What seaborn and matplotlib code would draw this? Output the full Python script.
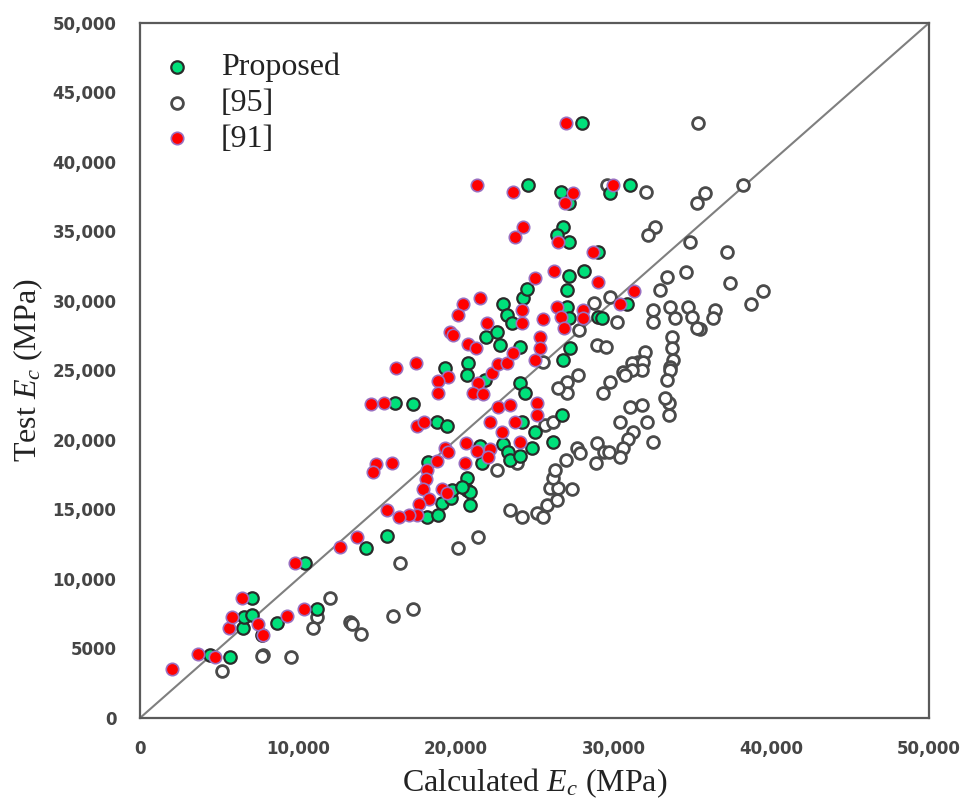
import numpy as np
import pandas as pd
import matplotlib
matplotlib.use("Agg")
import matplotlib.pyplot as plt
import seaborn as sns

# Proposed model: calculated vs. test elastic modulus (MPa)
proposed_x = [4440, 5700, 6550, 6610, 7120, 7120, 7700, 8660, 10440, 11240, 14350, 15630,
              16160, 17280, 18840, 19470, 18270, 18170, 18910, 19110, 19690, 19750, 20700,
              20700, 20910, 20910, 20380, 21650, 21540, 23020, 23340, 23450, 24080, 24190,
              24820, 25030, 26150, 26720, 23020, 23240, 23560, 24290, 24500, 21930, 22600,
              22810, 20810, 20740, 19330, 21860, 24080, 24080, 24400, 27990, 24570, 26680,
              29780, 31050, 26780, 27200, 26400, 27200, 29040, 28140, 27200, 27040, 30840,
              29040, 29250, 27040, 27200, 27250, 26820]
proposed_y = [4530, 4360, 6450, 7240, 7410, 8660, 6000, 6810, 11130, 7840, 12250, 13090,
              22640, 22590, 21320, 21000, 18440, 14480, 14600, 15440, 15800, 16400, 17240,
              16400, 16280, 15320, 16640, 18320, 19600, 19710, 19160, 18560, 18850, 21320,
              19400, 20600, 19880, 21800, 29780, 28990, 28390, 30190, 30840, 27440, 27790,
              26830, 25560, 24670, 25180, 24320, 26710, 24080, 23350, 42780, 38340, 37860,
              37740, 38340, 35350, 37030, 34750, 34260, 33550, 32160, 31790, 30790, 29780,
              28870, 28750, 29540, 28750, 26600, 25760]

# Reference [95]
ref95_x = [5180, 7820, 7700, 9590, 11240, 10940, 12040, 13300, 13410, 13990, 16010, 17320,
           16480, 20170, 21440, 23450, 24190, 22600, 23870, 25130, 25560, 25770, 26400,
           25980, 26510, 27360, 26190, 26300, 27000, 27670, 27880, 28940, 29400, 28900,
           25660, 26150, 31050, 31790, 33550, 33550, 32110, 30420, 31260, 30950, 30630,
           30420, 29740, 32480, 35380, 29570, 32070, 35810, 35280, 38230, 32640, 32210,
           34850, 37180, 37390, 39460, 38700, 36440, 36290, 35490, 34600, 33380, 32950,
           29780, 28770, 32530, 32530, 33590, 33900, 34750, 34960, 35280, 30210, 28940,
           29530, 33690, 33690, 33800, 33590, 32000, 31580, 31160, 30630, 27840, 25560,
           27780, 27040, 29780, 29360, 27040, 26510, 31900, 31790, 31160, 30740, 33590,
           33380, 33270]
ref95_y = [3400, 4530, 4450, 4360, 7290, 6500, 8660, 6930, 6760, 6020, 7340, 7820,
           11130, 12250, 13000, 14960, 14480, 17840, 18320, 14730, 14480, 15320, 15680,
           16520, 16520, 16450, 17240, 17840, 18560, 19400, 19040, 19760, 19160, 18370,
           21080, 21320, 22350, 22520, 22640, 21800, 21320, 21320, 20600, 20050, 19400,
           18800, 19160, 19880, 42780, 38340, 37860, 37740, 37030, 38340, 35350, 34750,
           34260, 33550, 31320, 30720, 29760, 29350, 28750, 27960, 32110, 31750, 30790,
           30310, 29880, 29350, 28510, 29590, 28750, 29590, 28870, 28030, 28510, 26830,
           26710, 27440, 26600, 25760, 25270, 26330, 25630, 25520, 24910, 27910, 25630,
           24680, 24190, 24190, 23350, 23350, 23720, 25630, 25040, 25040, 24680, 25040,
           24320, 23000]

# Reference [91]
ref91_x = [2000, 3700, 4770, 5660, 5830, 6460, 7460, 7820, 9340, 9800, 10390, 12670, 13770,
           14620, 15460, 17580, 18000, 19330, 19540, 20660, 21340, 22180, 22070, 20600,
           22180, 22710, 23450, 23760, 22920, 24080, 18800, 18210, 18120, 17910, 18330,
           17700, 17580, 17070, 16440, 15630, 19110, 19430, 14960, 14790, 15950, 23760,
           24190, 24190, 20490, 21550, 20170, 21970, 19640, 19820, 20810, 21290, 16220,
           17490, 19540, 18900, 18900, 21440, 22290, 22710, 23240, 23610, 21120, 21760,
           27000, 21340, 23660, 27420, 26930, 29950, 24290, 26510, 28730, 26240, 29040,
           25030, 31300, 30420, 28090, 28050, 26400, 26660, 26870, 25520, 25350, 25350,
           25030, 25130, 25130]
ref91_y = [3500, 4580, 4360, 6450, 7240, 8660, 6760, 5970, 7340, 11130, 7820, 12280, 13040,
           22590, 22640, 21000, 21320, 19450, 19160, 19810, 19210, 19320, 18750, 18370,
           21320, 22350, 22520, 21320, 20600, 19880, 18510, 17840, 17170, 16450, 15740,
           15400, 14600, 14600, 14480, 14960, 16450, 16210, 18270, 17720, 18320, 34620,
           29350, 28440, 29780, 30190, 28990, 28440, 27790, 27550, 26910, 26600, 25180,
           25560, 24550, 24270, 23350, 24080, 24840, 25470, 25560, 26280, 23350, 23310,
           42780, 38340, 37860, 37740, 37030, 38340, 35350, 34260, 33550, 32160, 31390,
           31640, 30720, 29780, 29350, 28750, 29540, 28870, 28030, 28680, 27400, 26600,
           25760, 22640, 21800]

y_ticks = [0, 5000, 10000, 15000, 20000, 25000, 30000, 35000, 40000, 45000, 50000]
y_tick_labels = ["0", "5000", "10,000", "15,000", "20,000", "25,000", "30,000",
                 "35,000", "40,000", "45,000", "50,000"]
x_ticks = [0, 10000, 20000, 30000, 40000, 50000]
x_tick_labels = ["0", "10,000", "20,000", "30,000", "40,000", "50,000"]

sns.set_style("white")
plt.rcParams["font.family"] = ["DejaVu Sans"]
plt.rcParams["mathtext.fontset"] = "custom"
plt.rcParams["mathtext.rm"] = "Liberation Serif"
plt.rcParams["mathtext.it"] = "Liberation Serif:italic"

fig = plt.figure(figsize=(9.63, 8.0), dpi=100)
ax = fig.add_axes([0.1454, 0.1025, 0.8193, 0.8688])

df95 = pd.DataFrame({"calc": ref95_x, "test": ref95_y})
dfp = pd.DataFrame({"calc": proposed_x, "test": proposed_y})
df91 = pd.DataFrame({"calc": ref91_x, "test": ref91_y})

# 1:1 line
ax.plot([0, 50000], [0, 50000], color="#7f7f7f", lw=1.5, zorder=1)

sns.scatterplot(data=df95, x="calc", y="test", ax=ax, s=72, facecolor="white",
                edgecolor="#4a4a4a", linewidth=2.0, label="[95]", zorder=2)
sns.scatterplot(data=dfp, x="calc", y="test", ax=ax, s=80, color="#00e07a",
                edgecolor="#2a2a2a", linewidth=1.6, label="Proposed", zorder=3)
sns.scatterplot(data=df91, x="calc", y="test", ax=ax, s=80, color="#ff0000",
                edgecolor="#9a6fc0", linewidth=1.2, label="[91]", zorder=4)

ax.set_xlim(0, 50000)
ax.set_ylim(0, 50000)
ax.set_xticks(x_ticks)
ax.set_xticklabels(x_tick_labels)
ax.set_yticks(y_ticks)
ax.set_yticklabels(y_tick_labels)
ax.tick_params(axis="both", direction="out", length=6, width=1.2, color="#6a6a6a",
               labelsize=12, labelcolor="#454545")
ax.tick_params(axis="x", pad=10)
ax.tick_params(axis="y", pad=11)
for lab in ax.get_xticklabels() + ax.get_yticklabels():
    lab.set_fontweight("bold")
for sp in ax.spines.values():
    sp.set_visible(True)
    sp.set_color("#5a5a5a")
    sp.set_linewidth(1.6)

ax.set_xlabel("Calculated $E_c$ (MPa)", fontsize=23, family="Liberation Serif",
              color="#222222", labelpad=6)
ax.set_ylabel("Test $E_c$ (MPa)", fontsize=23, family="Liberation Serif",
              color="#222222", labelpad=5)

handles, labels = ax.get_legend_handles_labels()
order = [labels.index("Proposed"), labels.index("[95]"), labels.index("[91]")]
leg = ax.legend([handles[i] for i in order], [labels[i] for i in order],
                loc="upper left", bbox_to_anchor=(0.0065, 0.98), frameon=False,
                prop={"family": "Liberation Serif", "size": 23},
                borderpad=0, handlelength=1.0, handletextpad=0.875,
                labelspacing=0.2, markerscale=1.0)
for t in leg.get_texts():
    t.set_color("#222222")

fig.savefig("out.png", dpi=100, facecolor="white")
